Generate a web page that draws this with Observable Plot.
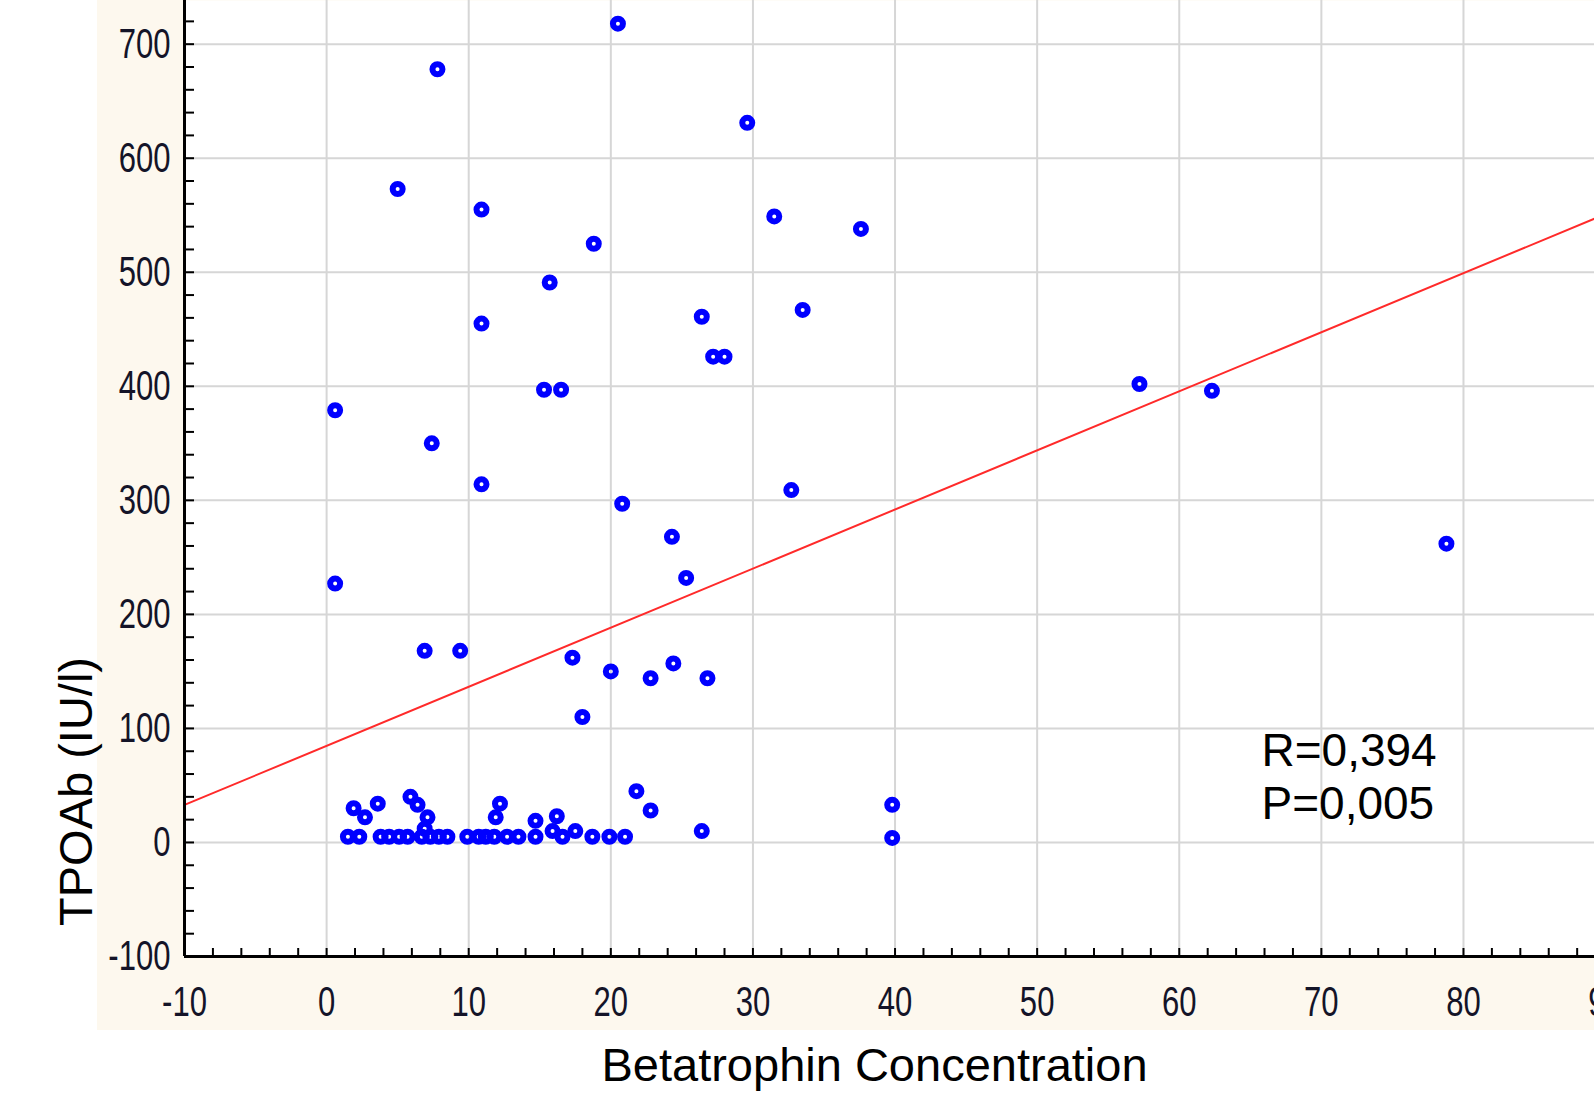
<!DOCTYPE html>
<html><head><meta charset="utf-8">
<script src="https://cdn.jsdelivr.net/npm/d3@7"></script>
<script src="https://cdn.jsdelivr.net/npm/@observablehq/plot@0.6"></script>
<style>
html,body{margin:0;padding:0;background:#fff;overflow:hidden;}
#wrap{position:relative;width:1594px;height:1097px;overflow:hidden;}
#cream{position:absolute;left:97px;top:0;width:1497px;height:1030px;background:#fdf8ee;}
#chart{position:absolute;left:0;top:0;}
</style></head><body>
<div id="wrap"><div id="cream"></div><div id="chart"></div></div>
<script>
// Betatrophin concentration (x) and TPOAb IU/l (y)
const betatrophin = [
  20.5, 7.8, 29.6, 5.0, 10.9, 31.5, 37.6, 18.8, 15.7, 26.4,
  33.5, 10.9, 27.2, 28.0, 15.3, 16.5, 57.2, 62.3, 0.6, 7.4,
  10.9, 32.7, 20.8, 24.3, 78.8, 0.6, 25.3, 6.9, 9.4, 17.3,
  20.0, 24.4, 22.8, 26.8, 18.0, 21.8, 22.8, 26.4, 39.8, 39.8,
  1.5, 2.3, 3.8, 4.4, 5.1, 5.7, 6.7, 7.3, 7.9, 8.5,
  9.9, 10.7, 11.2, 11.8, 12.7, 13.5, 14.7, 16.6, 18.7, 19.9, 21.0,
  15.9, 17.5, 6.9,
  1.9, 2.7, 3.6, 5.9, 6.4, 7.1, 12.2, 11.9, 14.7, 16.2
];
const tpoab = [
  718, 678, 631, 573, 555, 549, 538, 525, 491, 461,
  467, 455, 426, 426, 397, 397, 402, 396, 379, 350,
  314, 309, 297, 268, 262, 227, 232, 168, 168, 162,
  150, 157, 144, 144, 110, 45, 28, 10, 33, 4,
  5, 5, 5, 5, 5, 5, 5, 5, 5, 5,
  5, 5, 5, 5, 5, 5, 5, 5, 5, 5, 5,
  10, 10, 12,
  30, 22, 34, 40, 33, 22, 34, 22, 19, 23
];
const xTickLabels = [-10, 0, 10, 20, 30, 40, 50, 60, 70, 80, 90];
const yTickLabels = [-100, 0, 100, 200, 300, 400, 500, 600, 700];
// regression line end points
const fitX = [-10, 89.22];
const fitY = [32.9, 547.0];
const statsLines = ["R=0,394", "P=0,005"];
const xTitle = "Betatrophin Concentration";
const yTitle = "TPOAb (IU/l)";

const points = betatrophin.map((x, i) => ({x, y: tpoab[i]}));
const fit = fitX.map((x, i) => ({x, y: fitY[i]}));
const xMinor = d3.range(-10, 90, 2);
const yMinor = d3.range(-100, 740, 20);

const W = 1594, H = 1097, ML = 184, MB = 141;
const plotW = W - ML, plotH = H - MB;
const font = "'Liberation Sans', Arial, sans-serif";

const plot = Plot.plot({
  width: W, height: H,
  marginLeft: ML, marginRight: 0, marginTop: 0, marginBottom: MB,
  style: {background: "transparent", fontFamily: font, overflow: "hidden"},
  x: {domain: [-10, 89.22]},
  y: {domain: [-100, 738.3]},
  marks: [
    Plot.frame({fill: "white", stroke: "none"}),
    Plot.gridX({ticks: xTickLabels.filter(v => v > -10), stroke: "#d6d6d6", strokeOpacity: 1, strokeWidth: 2}),
    Plot.gridY({ticks: yTickLabels.filter(v => v > -100), stroke: "#d6d6d6", strokeOpacity: 1, strokeWidth: 2}),
    Plot.line(fit, {x: "x", y: "y", stroke: "#ff2a2a", strokeWidth: 2}),
    Plot.dot(points, {x: "x", y: "y", r: 5, stroke: "#0000ff", strokeWidth: 6, fill: "none"}),
    Plot.ruleX(xMinor, {insetTop: plotH - 8, stroke: "#000", strokeWidth: 2}),
    Plot.ruleY(yMinor, {insetRight: plotW - 10, stroke: "#000", strokeWidth: 2}),
    Plot.ruleX([-10], {stroke: "#000", strokeWidth: 3}),
    Plot.ruleY([-100], {stroke: "#000", strokeWidth: 3}),
    Plot.axisX({ticks: xTickLabels, tickFormat: d => String(d), tickSize: 0, tickPadding: 30, fontSize: 42, fill: "#141428", label: null}),
    Plot.axisY({ticks: yTickLabels, tickFormat: d => String(d), tickSize: 0, tickPadding: 14, fontSize: 42, fill: "#141428", label: null}),
    Plot.text([xTitle], {text: d => d, frameAnchor: "bottom", dx: -15, dy: 109,
      textAnchor: "middle", lineAnchor: "middle", fontSize: 47, fill: "#000"}),
    Plot.text([yTitle], {text: d => d, frameAnchor: "left", rotate: -90, dx: -108, dy: 313,
      textAnchor: "middle", lineAnchor: "middle", fontSize: 47, fill: "#000"}),
    Plot.text([statsLines.join("\n")], {text: d => d, frameAnchor: "top-left", dx: 1077, dy: 728,
      textAnchor: "start", lineAnchor: "top", lineHeight: 1.15, fontSize: 46, fill: "#000"})
  ]
});

// condense tick labels horizontally, as in the reference
plot.querySelectorAll('g[aria-label="x-axis tick label"] text, g[aria-label="y-axis tick label"] text').forEach(t => {
  const tr = t.getAttribute("transform");
  if (tr) {
    t.setAttribute("transform", tr + " scale(0.74,1)");
  } else {
    const x = +t.getAttribute("x") || 0, y = +t.getAttribute("y") || 0;
    t.removeAttribute("x"); t.removeAttribute("y");
    t.setAttribute("transform", `translate(${x},${y}) scale(0.74,1)`);
  }
});

document.getElementById("chart").appendChild(plot);
</script>
</body></html>
